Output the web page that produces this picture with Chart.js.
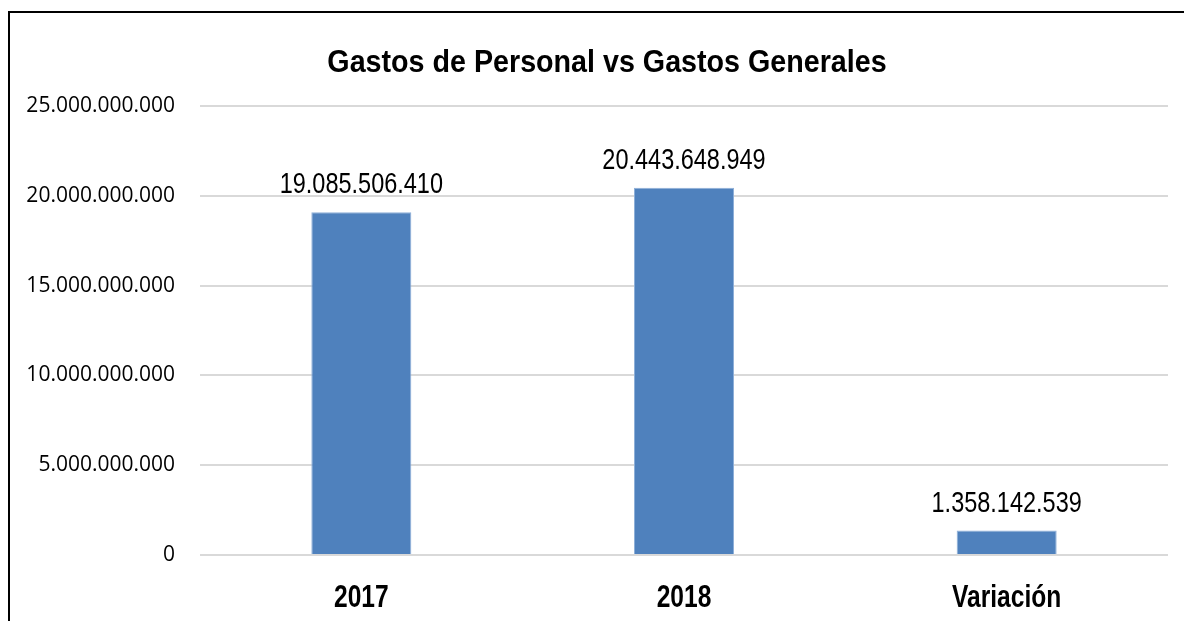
<!DOCTYPE html>
<html>
<head>
<meta charset="utf-8">
<script src="https://cdn.jsdelivr.net/npm/chart.js@4/dist/chart.umd.min.js"></script>
<style>
  html, body { margin: 0; padding: 0; background: #fff; overflow: hidden; }
  #marco { position: absolute; left: 8px; top: 11px; width: 1300px; height: 700px; border: 2px solid #000; }
  #grafico { position: absolute; left: 0; top: 0; }
</style>
</head>
<body>
<div id="marco"></div>
<canvas id="grafico" width="1184" height="621"></canvas>
<script>
const titulo = "Gastos de Personal vs Gastos Generales";
const categorias = ["2017", "2018", "Variación"];
const valores = [19085506410, 20443648949, 1358142539];
const ticksY = [0, 5000000000, 10000000000, 15000000000, 20000000000, 25000000000];

const fuenteArial = "'Liberation Sans', Arial, sans-serif";

function formatea(n) {
  return n.toLocaleString('de-DE');
}

// texto estrecho (tipo Arial Narrow) escalando en horizontal
function textoEstrecho(ctx, texto, x, y, escala) {
  ctx.save();
  ctx.translate(x, y);
  ctx.scale(escala, 1);
  ctx.fillText(texto, 0, 0);
  ctx.restore();
}

const textosExtra = {
  id: "textosExtra",
  afterDraw(chart) {
    const ctx = chart.ctx;
    const meta = chart.getDatasetMeta(0);
    const ejeX = chart.scales.x;
    ctx.save();
    ctx.fillStyle = "#000";
    ctx.textAlign = "center";
    ctx.textBaseline = "alphabetic";

    // titulo
    ctx.font = "bold 30.5px " + fuenteArial;
    textoEstrecho(ctx, titulo, 607, 72, 0.94);

    // valores encima de las barras
    ctx.font = "29px " + fuenteArial;
    meta.data.forEach((barra, i) => {
      textoEstrecho(ctx, formatea(valores[i]), barra.x, barra.y - 19, 0.81);
    });

    // etiquetas del eje x
    ctx.font = "bold 31.5px " + fuenteArial;
    categorias.forEach((c, i) => {
      textoEstrecho(ctx, c, ejeX.getPixelForTick(i), ejeX.bottom - 14, 0.78);
    });
    ctx.restore();
  }
};

const ctx = document.getElementById("grafico");
window.miGrafico = new Chart(ctx, {
  type: "bar",
  data: {
    labels: categorias,
    datasets: [{
      label: "Gastos",
      data: valores,
      backgroundColor: "#4f81bd",
      borderColor: "#8fb0d9",
      borderWidth: 1,
      barPercentage: 0.31,
      categoryPercentage: 1
    }]
  },
  options: {
    responsive: false,
    animation: false,
    layout: { padding: { left: 10, right: 16, top: 106, bottom: 0 } },
    plugins: {
      legend: { display: false },
      tooltip: { enabled: false },
      title: { display: false }
    },
    scales: {
      x: {
        grid: { display: false },
        border: { display: false },
        ticks: { display: false },
        afterFit(scale) { scale.height = 66; }
      },
      y: {
        min: 0,
        max: 25000000000,
        afterBuildTicks(scale) { scale.ticks = ticksY.map(v => ({ value: v })); },
        grid: { color: "#d9d9d9", lineWidth: 2, drawTicks: false },
        border: { display: false },
        ticks: {
          color: "#000",
          padding: 25,
          font: { family: "'Open Sans', sans-serif", size: 21 },
          callback: (v) => formatea(v)
        },
        afterFit(scale) { scale.width = 190; }
      }
    }
  },
  plugins: [textosExtra]
});
</script>
</body>
</html>
